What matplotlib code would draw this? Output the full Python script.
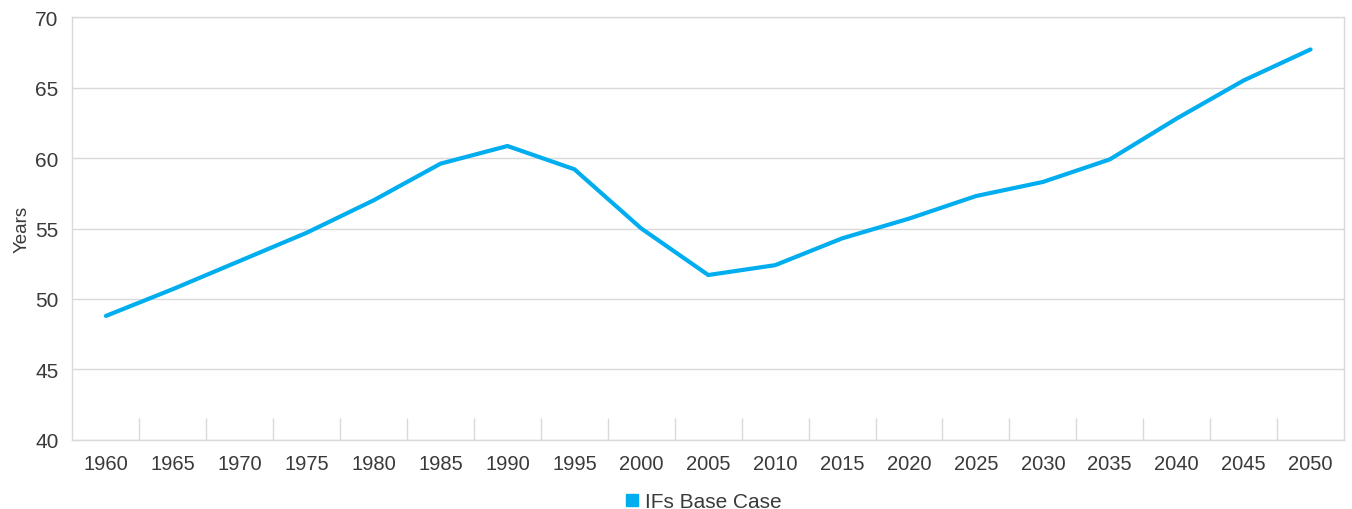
import matplotlib.pyplot as plt
from matplotlib.lines import Line2D
from matplotlib.ticker import FixedLocator

plt.rcParams['font.family'] = ['Liberation Sans', 'DejaVu Sans']

years = ['1960', '1965', '1970', '1975', '1980', '1985', '1990', '1995', '2000',
         '2005', '2010', '2015', '2020', '2025', '2030', '2035', '2040', '2045', '2050']
base_case = [48.8, 50.7, 52.7, 54.7, 57.0, 59.6, 60.85, 59.2, 55.0,
             51.7, 52.4, 54.3, 55.7, 57.3, 58.3, 59.9, 62.8, 65.5, 67.7]

line_color = '#00AEEF'
grid_color = '#d9d9d9'
text_color = '#3a3a3a'

fig = plt.figure(figsize=(13.52, 5.10), dpi=100)
ax = fig.add_axes([0.0536, 0.1353, 0.9405, 0.8294])

x = list(range(len(years)))
ax.plot(x, base_case, color=line_color, lw=3, solid_capstyle='round')

ax.set_xlim(-0.5, len(years) - 0.5)
ax.set_ylim(40, 70)
ax.set_yticks(range(40, 71, 5))
ax.set_xticks(x)
ax.set_xticklabels(years)
ax.xaxis.set_minor_locator(FixedLocator([i + 0.5 for i in range(len(years) - 1)]))

ax.grid(axis='y', color=grid_color, lw=1)
ax.set_axisbelow(True)
for s in ['left', 'right', 'top', 'bottom']:
    ax.spines[s].set_color(grid_color)
    ax.spines[s].set_linewidth(1)

ax.tick_params(axis='x', which='major', length=0, pad=10, labelsize=14.5, labelcolor=text_color)
ax.tick_params(axis='x', which='minor', direction='in', length=16, color=grid_color, width=1)
ax.tick_params(axis='y', length=0, pad=10, labelsize=15, labelcolor=text_color)

ax.set_ylabel('Years', fontsize=13.5, color=text_color, labelpad=3)

handle = Line2D([], [], marker='s', color=line_color, linestyle='none', markersize=8)
fig.legend([handle], ['IFs Base Case'], loc='center', bbox_to_anchor=(0.520, 0.015),
           frameon=False, fontsize=15, handlelength=0.7, handletextpad=0.3,
           labelcolor=text_color)

plt.savefig('out.png', dpi=100)
